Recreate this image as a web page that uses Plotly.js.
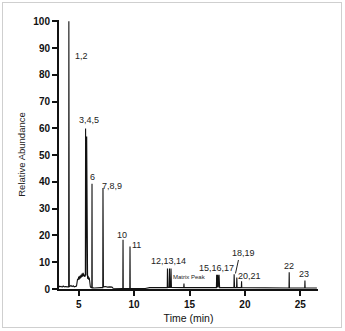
<!DOCTYPE html>
<html><head><meta charset="utf-8">
<script src="https://cdn.plot.ly/plotly-3.0.1.min.js"></script>
<style>
html,body{margin:0;padding:0;background:#fff;}
#wrap{position:relative;width:345px;height:331px;}
#chart{position:absolute;left:0;top:0;width:345px;height:331px;}
#frame{position:absolute;left:2px;top:2px;width:338px;height:324px;border:1px solid #cfcfcf;pointer-events:none;}
</style></head>
<body><div id="wrap"><div id="chart"></div><div id="frame"></div></div>
<script>
// Chromatogram trace (time in min, relative abundance %)
const timeMin = [3.22,3.3,3.4,3.5,3.6,3.7,3.8,3.9,4.0,4.09,4.11,4.13,4.15,4.2,4.3,4.4,4.5,4.6,4.7,4.8,
  4.85,4.9,4.95,5.0,5.05,5.1,5.15,5.2,5.25,5.3,5.35,5.4,5.45,5.5,5.55,5.6,5.62,5.66,5.72,5.76,5.8,5.85,5.9,5.95,
  6.0,6.05,6.1,6.18,6.2,6.22,6.4,6.6,6.8,7.0,7.17,7.19,7.21,7.23,7.4,7.6,7.8,8.0,8.1,8.5,
  8.98,9.0,9.02,9.61,9.63,9.65,11.0,11.4,12.99,13.01,13.05,13.17,13.19,13.23,13.31,13.33,13.37,
  14.48,14.5,14.52,17.43,17.45,17.5,17.55,17.6,17.67,17.72,19.01,19.03,19.07,19.25,19.27,19.3,
  19.68,19.7,19.72,23.98,24.0,24.02,25.4,25.42,25.44,26.5];
const abundance = [1.2,0.8,1.0,0.7,1.1,0.8,0.9,0.7,0.8,0.8,100,82,0.8,1.0,1.3,0.9,1.2,0.8,1.0,1.1,
  2.5,3.8,3.4,4.6,3.6,4.9,4.0,5.3,4.3,5.8,4.6,6.0,4.8,5.4,4.5,5.2,60,5.0,57,4.5,3.8,4.9,3.5,4.3,
  1.2,0.8,0.6,0.5,39.3,0.5,0.4,0.5,0.4,0.5,0.5,37.7,30,0.8,0.9,0.7,0.8,0.7,0.3,0.2,
  0.2,18.4,0.2,0.2,15.9,0.2,0.2,0.5,0.5,7.7,0.6,0.6,7.7,0.6,0.6,7.7,0.6,
  0.5,2.0,0.5,0.5,5.3,0.6,5.3,0.6,5.3,0.5,0.5,5.5,0.5,0.5,4.3,0.5,
  0.5,2.9,0.5,0.4,6.3,0.4,0.4,3.2,0.4,0.4];

// Peak labels
const labelText = ["1,2","3,4,5","6","7,8,9","10","11","12,13,14","Matrix Peak","15,16,17","18,19","20,21","22","23"];
const labelX = [5.25,5.93,6.2,8.04,8.95,10.24,13.07,14.96,17.43,19.88,20.4,23.97,25.38];
const labelY = [87,63,42,38.5,20,16.6,10.3,4.3,7.8,13.6,5,8.6,5.5];
const labelSize = [9,9,9,9,9,9,9,6,9,9,9,9,9];

const xTicks = [5,10,15,20,25];
const yTicks = [0,10,20,30,40,50,60,70,80,90,100];

const annotations = labelText.map((t,i)=>({
  x: labelX[i], y: labelY[i], xref:'x', yref:'y', text: t, showarrow:false,
  font:{family:'Arial, Liberation Sans, sans-serif', size: labelSize[i], color:'#222'}
}));
// leader line for 18,19
annotations.push({x:19.15, y:5.8, ax:19.45, ay:11.4, axref:'x', ayref:'y', xref:'x', yref:'y',
  text:'', showarrow:true, arrowhead:0, arrowwidth:1, arrowcolor:'#222'});

const trace = {x: timeMin, y: abundance, type:'scatter', mode:'lines',
  line:{color:'#111', width:1.1}, hoverinfo:'skip'};

const layout = {
  width:345, height:331,
  margin:{l:59, r:27, t:20, b:42},
  paper_bgcolor:'#fff', plot_bgcolor:'#fff',
  showlegend:false,
  xaxis:{range:[3.22,26.6], tickvals:xTicks, ticktext:xTicks.map(String), ticks:'outside', ticklen:5, tickwidth:2,
    tickcolor:'#111', showline:true, linecolor:'#111', linewidth:2, showgrid:false, zeroline:false,
    tickfont:{family:'Arial, Liberation Sans, sans-serif', size:10, color:'#111', weight:'bold'},
    title:{text:'Time (min)', standoff:6, font:{family:'Arial, Liberation Sans, sans-serif', size:10.5, color:'#111'}}},
  yaxis:{range:[0,100.5], tickvals:yTicks, ticktext:yTicks.map(String), ticks:'outside', ticklen:5, tickwidth:2,
    tickcolor:'#111', showline:true, linecolor:'#111', linewidth:2, showgrid:false, zeroline:false,
    tickfont:{family:'Arial, Liberation Sans, sans-serif', size:10, color:'#111', weight:'bold'},
    title:{text:'Relative Abundance', standoff:6, font:{family:'Arial, Liberation Sans, sans-serif', size:9.5, color:'#222'}}},
  annotations: annotations
};
Plotly.newPlot('chart',[trace],layout,{displayModeBar:false, staticPlot:true});
</script></body></html>
